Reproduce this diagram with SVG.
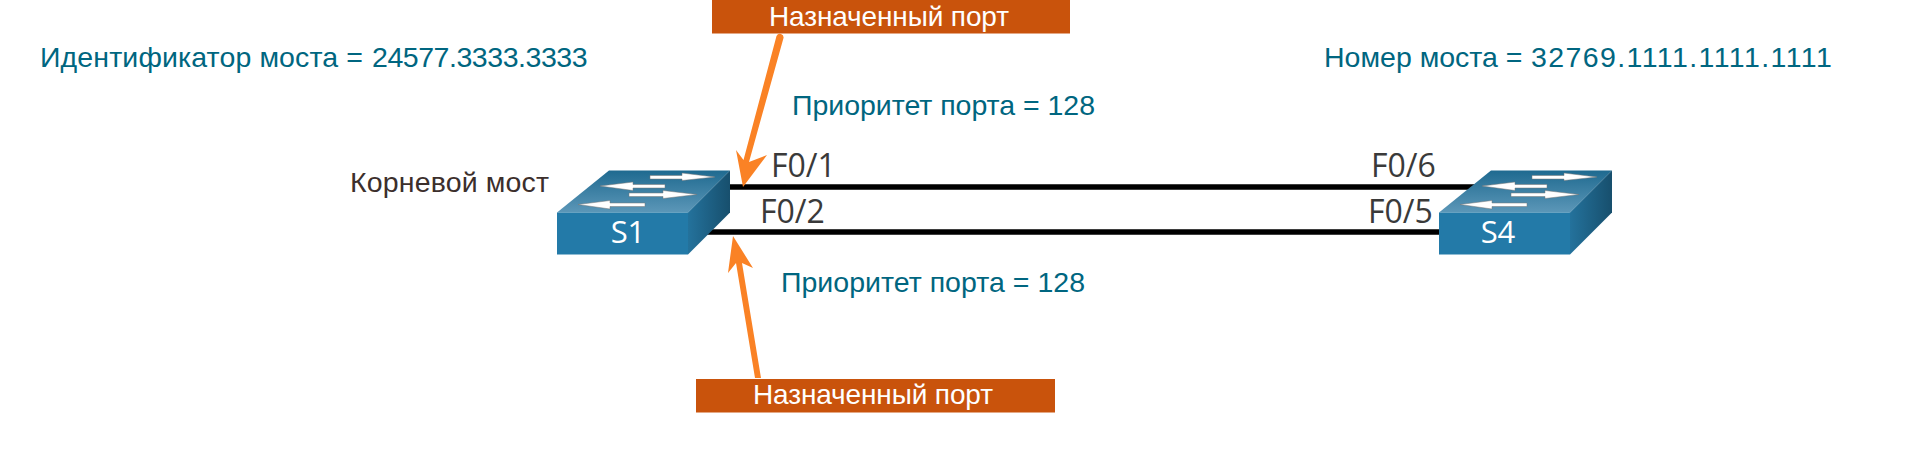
<svg xmlns="http://www.w3.org/2000/svg" width="1920" height="454" viewBox="0 0 1920 454">
<style>
text{font-family:"Liberation Sans",Arial,sans-serif}
.t{fill:#006680;font-size:28.5px}
.p{fill:#3a3a3a;font-size:32px;font-family:"Open Sans",sans-serif}
.d{fill:#fff;font-size:28px}
.n{fill:#fff;font-size:31px;text-anchor:middle;font-family:"Open Sans",sans-serif}
.b{fill:#c9530c}
.a{fill:#fa8225}
.front{fill:#237aa8}
.ar{fill:#fff;stroke:#777;stroke-width:.5}
</style>
<defs>
<linearGradient id="top" x1="0" y1="0" x2="0" y2="1"><stop offset="0" stop-color="#1f6a90"/><stop offset="1" stop-color="#5c97b8"/></linearGradient>
<linearGradient id="side" x1="0" y1="0" x2="1" y2="0"><stop offset="0" stop-color="#24729c"/><stop offset="1" stop-color="#174f6d"/></linearGradient>
<g id="sw">
<path d="M0 42L52 0H173L131 42Z" fill="url(#top)"/>
<path d="M131 42L173 0V42L131 84Z" fill="url(#side)"/>
<rect y="42" width="131" height="42" class="front"/>
<path class="ar" d="M93 5H125V2.500L158 6.500L125 10V8.500H93Z"/>
<path class="ar" d="M43 15.500L76 11.500V14H108V17.500H76V20Z"/>
<path class="ar" d="M72 22.500H106V20L140 24L106 28V26H72Z"/>
<path class="ar" d="M21 34L53 30V32.500H88V36H53V38.500Z"/>
</g>
</defs>
<g id="connectors">
<path d="M730 187H1476M690 232H1442" stroke="#000" stroke-width="5.500" fill="none"/>
<path class="a" d="M776.500 36Q778 33 781 34Q784 35 783.500 38L749 162L767 155L743 187L736 150L743.500 160Z"/>
<path class="a" d="M733 236L753 268L742 263L761 378H755L736 263L728 273Z"/>
</g>
<g id="s1"><use href="#sw" x="557" y="170.500"/><text class="n" x="628" y="243">S1</text></g>
<g id="s4"><use href="#sw" x="1439" y="170.500"/><text class="n" x="1498" y="243">S4</text></g>
<g id="labels">
<text class="t" x="40" y="67" letter-spacing=".12">Идентификатор моста = <tspan x="372" letter-spacing="-.45">24577.3333.3333</tspan></text>
<text class="t" x="1324" y="67">Номер моста = <tspan x="1531" letter-spacing="1.4">32769.1111.1111.1111</tspan></text>
<text class="t" x="792" y="115" textLength="303" lengthAdjust="spacing">Приоритет порта = 128</text>
<text class="t" x="781" y="292" textLength="304" lengthAdjust="spacing">Приоритет порта = 128</text>
<text x="350" y="192" font-size="28.500" fill="#3c2f2c" textLength="199" lengthAdjust="spacing">Корневой мост</text>
<text class="p" x="771" y="177">F0/1</text>
<text class="p" x="760" y="223">F0/2</text>
<text class="p" x="1371" y="177">F0/6</text>
<text class="p" x="1368" y="223">F0/5</text>
</g>
<g id="top-port"><rect class="b" x="712" y="0" width="358" height="33.500"/><text class="d" x="769" y="26" textLength="240" lengthAdjust="spacing">Назначенный порт</text></g>
<g id="bottom-port"><rect class="b" x="696" y="379" width="359" height="33.500"/><text class="d" x="753" y="404" textLength="240" lengthAdjust="spacing">Назначенный порт</text></g>
</svg>
